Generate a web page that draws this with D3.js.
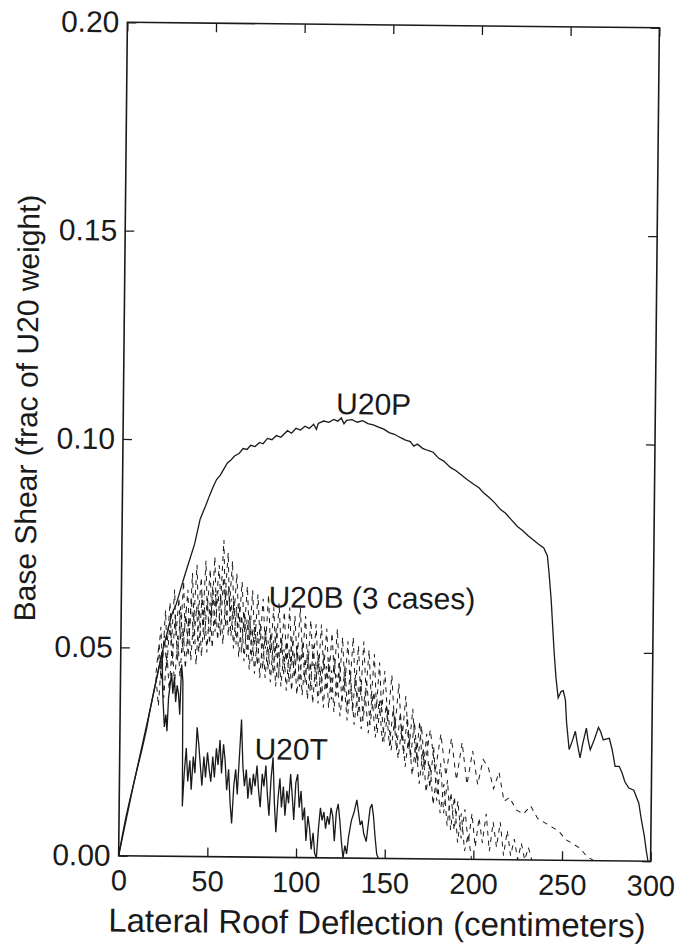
<!DOCTYPE html>
<html>
<head>
<meta charset="utf-8">
<script src="https://cdn.jsdelivr.net/npm/d3@7"></script>
<style>
  html, body { margin: 0; padding: 0; background: #fff; }
  svg { display: block; font-family: "Liberation Sans", Arial, Helvetica, sans-serif; }
</style>
</head>
<body>
<svg id="chart" width="681" height="945"></svg>
<script>
// tick values
const xTicks = [0, 50, 100, 150, 200, 250, 300];
const yTicks = [0, 0.05, 0.10, 0.15, 0.20];

// U20P pushover curve (solid)
const u20p = [[0,0],[2,0.005],[4,0.0095],[6,0.0135],[8,0.0172],[10,0.021],[12.5,0.0255],[15,0.0305],[17,0.0354],[20,0.042],
  [23.4,0.049],[26,0.0535],[28.5,0.058],[31,0.0605],[33.3,0.064],[36,0.068],[38.5,0.0715],[41,0.075],[44,0.081],[47,0.0842],
  [49,0.0865],[51.2,0.0888],[53,0.0905],[55,0.0915],[57,0.093],[59,0.0945],[61,0.0952],[63,0.0962],[65.5,0.0968],[67.8,0.098],
  [70,0.0978],[72,0.0988],[74.5,0.0985],[77,0.0995],[79,0.0992],[81.4,0.1005],[84,0.1002],[86.5,0.1012],[89,0.1008],[92.7,0.1024],
  [95,0.1018],[97.5,0.1030],[100,0.1026],[102.5,0.1035],[105,0.1030],[107.4,0.1040],[109,0.1028],[110,0.1042],[113,0.1048],[116,0.1045],
  [118.7,0.1052],[121,0.1048],[123,0.1056],[124.5,0.1042],[126,0.1050],[129,0.1052],[132,0.1046],[135,0.1050],[138,0.1043],[141,0.1040],
  [144,0.1035],[147,0.1030],[150,0.1022],[153,0.1018],[156.5,0.1010],[159,0.1005],[162,0.1001],[164,0.0990],[166,0.0995],[169,0.0985],
  [172,0.0980],[175,0.0976],[178,0.0962],[181,0.0955],[184.8,0.094],[188,0.0932],[191,0.0922],[194.6,0.091],[198,0.0900],[201,0.0892],
  [203.6,0.088],[207,0.0868],[210,0.0856],[213.3,0.084],[216,0.0832],[219,0.0818],[222.9,0.080],[226,0.0790],[229,0.0778],[232,0.0768],
  [235,0.0758],[237.9,0.0749],[240,0.073],[241,0.069],[242.4,0.0624],[243.4,0.056],[244.4,0.0497],[245.5,0.044],[246.9,0.039],[248.5,0.0405],
  [249.7,0.0407],[251,0.0385],[251.8,0.033],[253.4,0.0266],[255,0.0285],[256.8,0.031],[258,0.028],[259.6,0.0246],[261,0.028],[263,0.0318],
  [264,0.029],[265.3,0.0266],[267.5,0.029],[269.8,0.032],[271,0.031],[272.6,0.029],[274,0.0292],[276,0.0294],[277.7,0.0266],[279.4,0.0227],
  [281.7,0.0227],[283.4,0.0211],[285,0.019],[287.3,0.0175],[290.1,0.017],[291.5,0.0155],[293,0.0139],[294.5,0.010],[296.3,0.006],[297.5,0.0025],[298.5,0]];

// U20T (solid, noisy)
const u20t = [[0,0],[7.9,0.017],[17,0.0354],[23.4,0.049],[23.8,0.040],[24.3,0.036],[25,0.031],[25.8,0.034],[26.5,0.030],[27.2,0.038],
  [28,0.041],[28.8,0.044],[29.6,0.039],[30.4,0.043],[31.2,0.037],[32,0.041],[32.8,0.039],[33.6,0.034],[34.4,0.046],[35.2,0.042],
  [35.6,0.012],[36.5,0.020],[37.5,0.026],[38.5,0.018],[39.6,0.023],[40.5,0.016],[41.5,0.024],[42.5,0.020],[43.5,0.031],[44.5,0.027],
  [45.5,0.022],[46.5,0.017],[47.5,0.024],[48.5,0.019],[49.5,0.025],[50.5,0.021],[51.5,0.018],[52.5,0.024],[53.5,0.019],[54.5,0.026],
  [55.5,0.022],[56.5,0.028],[57.5,0.020],[58.5,0.027],[59.5,0.023],[60.5,0.016],[61.5,0.021],[62.5,0.013],[63.5,0.008],[64.5,0.017],
  [65.5,0.021],[66.5,0.015],[67.5,0.024],[68.5,0.033],[69.5,0.022],[70.5,0.017],[71.5,0.021],[72.5,0.014],[73.5,0.019],[74.5,0.015],
  [75.5,0.020],[76.5,0.017],[77.5,0.022],[78.5,0.016],[79.5,0.012],[80.5,0.020],[81.5,0.017],[82.5,0.022],[83.5,0.015],[84.5,0.010],
  [85.5,0.019],[86.5,0.024],[87.5,0.013],[88.5,0.006],[89.5,0.014],[90.5,0.019],[91.5,0.012],[92.5,0.017],[93.5,0.010],[94.5,0.016],
  [95.5,0.013],[96.5,0.020],[97.5,0.015],[98.5,0.009],[99.5,0.018],[100.5,0.020],[101.5,0.012],[102.5,0.016],[103.5,0.009],[104.5,0.012],
  [105.5,0.004],[106.5,0.010],[107.5,0.007],[108.5,0.002],[109.5,0.006],[110.5,0.001],[111.5,0],[112.5,0.007],[113.5,0.012],[114.5,0.009],
  [115.5,0.011],[116.5,0.007],[117.5,0.010],[118.5,0.008],[119.5,0.012],[120.5,0.010],[121.5,0.004],[122.5,0.011],[123.5,0.013],[124.5,0.009],
  [125.5,0.004],[126.5,0],[127.5,0.003],[128.5,0.001],[129.5,0.005],[131,0.009],[132.5,0.011],[134,0.014],[135,0.011],[136,0.008],
  [137,0.009],[138,0.006],[139.5,0.004],[140.5,0.008],[141.5,0.012],[142.5,0.013],[143.5,0.010],[144.5,0.005],[145.5,0.001],[146.5,0]];

// U20B, three cases (dashed)
const u20bA = [[21,0.047],[22.5,0.055],[23.5,0.046],[25,0.059],[26,0.050],[27.5,0.061],[28.5,0.051],[30,0.064],[31,0.053],[32.5,0.062],
  [33.5,0.052],[35,0.066],[36,0.055],[37.5,0.064],[38.5,0.053],[40,0.068],[41,0.057],[42.5,0.070],[43.5,0.058],[45,0.067],
  [46,0.055],[47.5,0.071],[48.5,0.059],[50,0.069],[51,0.057],[52.5,0.072],[53.5,0.060],[55,0.070],[56,0.061],[57.5,0.076],
  [58.5,0.062],[60,0.073],[61,0.060],[62.5,0.071],[63.5,0.057],[65,0.068],[66.5,0.055],[68,0.066],[69.5,0.054],[71,0.065],
  [72.5,0.052],[74,0.064],[75.5,0.051],[77,0.063],[78.5,0.052],[80,0.062],[81.5,0.050],[83,0.063],[84.5,0.049],[86,0.060],
  [87.5,0.048],[89,0.061],[90.5,0.049],[92,0.059],[93.5,0.047],[95,0.060],[96.5,0.046],[98,0.058],[99.5,0.047],[101,0.060],
  [102.5,0.048],[104,0.058],[105.5,0.045],[107,0.057],[108.5,0.046],[110,0.056],[111.5,0.044],[113,0.056],[114.5,0.045],[116,0.055],
  [117.5,0.043],[119,0.054],[120.5,0.044],[122,0.055],[123.5,0.042],[125,0.053],[126.5,0.041],[128,0.052],[129.5,0.042],[131,0.053],
  [132.5,0.040],[134,0.051],[135.5,0.039],[137,0.052],[138.5,0.040],[140,0.050],[141.5,0.038],[143,0.049],[144.5,0.036],[146,0.047],
  [147.5,0.035],[149,0.045],[151,0.033],[153,0.044],[155,0.031],[157,0.042],[159,0.028],[161,0.039],[163,0.026],[165,0.036],
  [167,0.023],[169,0.033],[171,0.020],[173,0.030],[175,0.017],[177,0.027],[179,0.014],[181,0.023],[183,0.011],[185,0.019],
  [187,0.007],[189,0.015],[191,0.004],[193,0.011],[195,0.002],[197,0.006],[199,0]];

const u20bB = [[20,0.044],[21.5,0.051],[23,0.042],[24.5,0.053],[26,0.045],[27.5,0.056],[29,0.046],[30.5,0.058],[32,0.047],[33.5,0.060],
  [35,0.049],[36.5,0.059],[38,0.048],[39.5,0.062],[41,0.051],[42.5,0.060],[44,0.049],[45.5,0.063],[47,0.052],[48.5,0.062],
  [50,0.051],[51.5,0.065],[53,0.054],[54.5,0.064],[56,0.053],[57.5,0.067],[59,0.055],[60.5,0.065],[62,0.053],[63.5,0.062],
  [65,0.051],[66.5,0.061],[68,0.049],[69.5,0.059],[71,0.048],[72.5,0.058],[74,0.047],[75.5,0.057],[77,0.046],[78.5,0.056],
  [80,0.045],[81.5,0.055],[83,0.045],[84.5,0.054],[86,0.044],[87.5,0.055],[89,0.043],[90.5,0.053],[92,0.044],[93.5,0.052],
  [95,0.042],[96.5,0.053],[98,0.043],[99.5,0.051],[101,0.041],[102.5,0.052],[104,0.042],[105.5,0.050],[107,0.040],[108.5,0.051],
  [110,0.041],[111.5,0.049],[113,0.039],[114.5,0.049],[116,0.040],[117.5,0.048],[119,0.038],[120.5,0.048],[122,0.039],[123.5,0.047],
  [125,0.037],[126.5,0.046],[128,0.036],[129.5,0.045],[131,0.035],[132.5,0.044],[134,0.034],[135.5,0.043],[137,0.033],[139,0.042],
  [141,0.032],[143,0.040],[145,0.030],[147,0.038],[149,0.028],[151,0.036],[153,0.026],[155,0.034],[157,0.024],[159,0.032],
  [161,0.022],[163,0.030],[165,0.020],[167,0.028],[169,0.018],[171,0.026],[173,0.016],[175,0.023],[177,0.013],[179,0.021],
  [181,0.011],[183,0.018],[185,0.008],[187,0.016],[189,0.007],[191,0.014],[193,0.005],[195,0.012],[197,0.004],[199,0.011],
  [201,0.003],[203,0.010],[205,0.004],[207,0.011],[209,0.002],[211,0.009],[213,0.003],[215,0.009],[217,0.001],[219,0.007],
  [221,0.001],[223,0.005],[225,0],[227,0.004],[229,0],[231,0.003],[233,0]];

const u20bC = [[20,0.043],[21.5,0.036],[23,0.047],[24.5,0.038],[26,0.049],[27.5,0.040],[29,0.051],[30.5,0.041],[32,0.053],[33.5,0.043],
  [35,0.055],[36.5,0.045],[38,0.057],[39.5,0.047],[41,0.058],[42.5,0.046],[44,0.059],[45.5,0.048],[47,0.060],[48.5,0.049],
  [50,0.061],[51.5,0.050],[53,0.063],[54.5,0.052],[56,0.062],[57.5,0.051],[59,0.064],[60.5,0.053],[62,0.062],[63.5,0.050],
  [65,0.060],[66.5,0.048],[68,0.058],[69.5,0.047],[71,0.057],[72.5,0.045],[74,0.055],[75.5,0.044],[77,0.054],[78.5,0.043],
  [80,0.053],[81.5,0.043],[83,0.052],[84.5,0.042],[86,0.052],[87.5,0.041],[89,0.051],[90.5,0.041],[92,0.050],[93.5,0.040],
  [95,0.050],[96.5,0.040],[98,0.049],[99.5,0.039],[101,0.049],[102.5,0.039],[104,0.048],[105.5,0.038],[107,0.047],[108.5,0.037],
  [110,0.047],[111.5,0.037],[113,0.046],[114.5,0.036],[116,0.046],[117.5,0.036],[119,0.045],[120.5,0.035],[122,0.044],[124,0.034],
  [126,0.043],[128,0.033],[130,0.042],[132,0.032],[134,0.041],[136,0.031],[138,0.040],[140,0.030],[142,0.039],[144,0.029],
  [146,0.038],[148,0.028],[150,0.037],[152,0.027],[154,0.036],[156,0.026],[158,0.035],[160,0.025],[162,0.034],[164,0.024],
  [166,0.033],[168,0.023],[170,0.032],[172,0.022],[175,0.031],[178,0.021],[181,0.030],[184,0.020],[187,0.029],[190,0.019],
  [193,0.028],[196,0.018],[199,0.026],[202,0.018],[205,0.024],[208,0.022],[211,0.017],[214,0.021],[217,0.014],[220,0.015],
  [224,0.012],[228,0.011],[232,0.013],[236,0.010],[240,0.009],[244,0.008],[248,0.007],[252,0.005],[256,0.004],[260,0.003],
  [264,0.001],[268,0]];

const curveLabels = [
  {text: 'U20P', x: 120, y: 0.1065},
  {text: 'U20B (3 cases)', x: 83, y: 0.060},
  {text: 'U20T', x: 76, y: 0.0235},
];

const margin = {top: 25, right: 26, bottom: 86.5, left: 123};
const width = 681 - margin.left - margin.right;
const height = 945 - margin.top - margin.bottom;
const ink = '#1a1a1a';

function drawChart() {
  const svg = d3.select('#chart');
  // the scanned page sits slightly tilted
  const root = svg.append('g')
    .attr('transform', `rotate(0.6, ${margin.left + width / 2}, ${margin.top + height / 2})`);
  const g = root.append('g')
    .attr('transform', `translate(${margin.left},${margin.top})`);

  const x = d3.scaleLinear().domain([0, 300]).range([0, width]);
  const y = d3.scaleLinear().domain([0, 0.2]).range([height, 0]);

  const line = d3.line().x(d => x(d[0])).y(d => y(d[1]));

  g.append('path').datum(u20p)
    .attr('d', line).attr('fill', 'none').attr('stroke', ink).attr('stroke-width', 1.3);
  g.append('path').datum(u20t)
    .attr('d', line).attr('fill', 'none').attr('stroke', ink).attr('stroke-width', 1.3)
    .attr('stroke-linejoin', 'bevel');

  [u20bA, u20bB, u20bC].forEach((series) => {
    g.append('path').datum(series)
      .attr('d', line).attr('fill', 'none').attr('stroke', ink).attr('stroke-width', 1)
      .attr('stroke-dasharray', '5,5');
  });

  const tick = 9;
  const xAxis = d3.axisBottom(x).tickValues(xTicks).tickSize(-tick).tickPadding(14).tickFormat(d3.format('d'));
  const xTop = d3.axisTop(x).tickValues(xTicks).tickSize(-tick).tickFormat('');
  const yAxis = d3.axisLeft(y).tickValues(yTicks).tickSize(-tick).tickPadding(8).tickFormat(d3.format('.2f'));
  const yRight = d3.axisRight(y).tickValues(yTicks).tickSize(-tick).tickFormat('');

  [
    [xAxis, `translate(0,${height})`, '29px'],
    [xTop, 'translate(0,0)', '29px'],
    [yAxis, 'translate(0,0)', '30px'],
    [yRight, `translate(${width},0)`, '30px'],
  ].forEach(([axis, tr, size]) => {
    const a = g.append('g').attr('transform', tr).call(axis);
    a.select('.domain').remove();
    a.selectAll('line').attr('stroke', ink).attr('stroke-width', 1.3);
    a.selectAll('text').attr('fill', ink).style('font-size', size)
      .style('font-family', '"Liberation Sans", Arial, sans-serif');
  });

  g.append('rect')
    .attr('width', width).attr('height', height)
    .attr('fill', 'none').attr('stroke', ink).attr('stroke-width', 1.6);

  g.selectAll('.curve-label')
    .data(curveLabels)
    .enter().append('text')
    .attr('class', 'curve-label')
    .attr('x', d => x(d.x))
    .attr('y', d => y(d.y))
    .attr('fill', ink)
    .style('font-size', '30px')
    .text(d => d.text);

  g.append('text')
    .attr('x', width / 2 - 7)
    .attr('y', height + 76)
    .attr('text-anchor', 'middle')
    .attr('fill', ink)
    .style('font-size', '33px')
    .text('Lateral Roof Deflection (centimeters)');

  g.append('text')
    .attr('transform', `translate(${37 - margin.left},${height / 2 - 30}) rotate(-90)`)
    .attr('text-anchor', 'middle')
    .attr('fill', ink)
    .style('font-size', '30px')
    .text('Base Shear (frac of U20 weight)');
}

drawChart();
</script>
</body>
</html>
